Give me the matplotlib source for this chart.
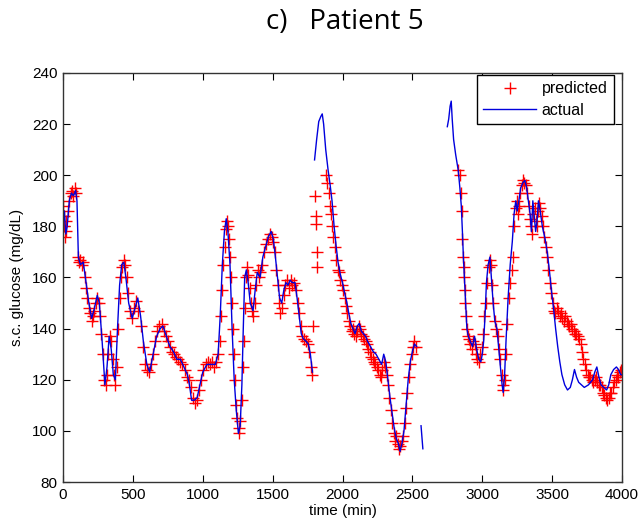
import numpy as np
import matplotlib.pyplot as plt

# actual s.c. glucose trace (NaN separates the gaps in the sensor record)
act_t = [0, 10, 20, 30, 45, 60, 75, 90, 100, 110, 125, 145, 165, 185, 205, 225, 245, 260, 280, 300,
         315, 330, 345, 360, 375, 390, 405, 420, 435, 450, 470, 495, 515, 535, 555, 575, 600, 620, 645, 670,
         695, 715, 740, 765, 790, 815, 840, 865, 890, 905, 920, 940, 960, 980, 1000, 1030, 1060, 1090, 1110, 1125,
         1140, 1155, 1168, 1180, 1195, 1210, 1225, 1240, 1255, 1268, 1280, 1290, 1300, 1312, 1325, 1340, 1360, 1375, 1390, 1410,
         1430, 1450, 1470, 1490, 1505, 1520, 1535, 1550, 1565, 1580, 1595, 1610, 1625, 1640, 1660, 1675, 1690, 1705, 1720, 1740,
         1755, 1770, 1785,
         1787,
         1800, 1815, 1830, 1845, 1855, 1865, 1880, 1897, 1912, 1925, 1940, 1955, 1968, 1985, 2000, 2015, 2032, 2045, 2060, 2075,
         2090, 2105, 2120, 2135, 2150, 2165, 2180, 2200, 2220, 2240, 2260, 2280, 2295, 2310, 2325, 2340, 2355, 2370, 2385, 2400,
         2412, 2425, 2440, 2455, 2470, 2485, 2500, 2515, 2530,
         2545,
         2562, 2568, 2575,
         2600,
         2750, 2760, 2770, 2778, 2785, 2795, 2810, 2828, 2840, 2850, 2858, 2865, 2872, 2880, 2890, 2900, 2915, 2930, 2945, 2960,
         2975, 2990, 3000, 3010, 3020, 3030, 3042, 3055, 3065, 3078, 3090, 3105, 3118, 3130, 3142, 3150, 3160, 3170, 3185, 3200,
         3215, 3228, 3240, 3250, 3262, 3275, 3290, 3305, 3318, 3330, 3342, 3352, 3362, 3372, 3382, 3392, 3402, 3415, 3430, 3450,
         3465, 3480, 3495, 3510, 3525, 3540, 3555, 3570, 3590, 3610, 3630, 3645, 3660, 3675, 3690, 3710, 3730, 3760, 3790, 3805,
         3820, 3835, 3850, 3870, 3890, 3905, 3920, 3940, 3960, 3975, 3990, 4000]
act_g = [180, 186, 177, 180, 190, 193, 192, 194, 190, 168, 165, 166, 158, 150, 144, 148, 153, 150, 135, 118,
         125, 137, 132, 122, 120, 140, 157, 165, 166, 160, 150, 144, 148, 152, 145, 135, 126, 123, 130, 137,
         140, 141, 137, 133, 131, 128, 128, 125, 122, 118, 112, 112, 113, 118, 123, 126, 126, 126, 130, 145,
         165, 178, 183, 178, 165, 140, 120, 108, 99, 102, 118, 140, 160, 163, 158, 150, 147, 155, 162, 160,
         168, 172, 176, 178, 175, 168, 160, 152, 150, 155, 158, 157, 159, 158, 158, 152, 145, 138, 136, 135,
         134, 130, 123,
         np.nan,
         206, 214, 221, 223, 224, 220, 210, 202, 196, 190, 180, 172, 166, 161, 158, 154, 150, 146, 142, 140,
         138, 141, 142, 139, 138, 137, 135, 133, 131, 130, 128, 126, 130, 127, 120, 113, 107, 101, 97, 95,
         92, 95, 100, 110, 120, 127, 131, 134, 133,
         np.nan,
         102, 98, 93,
         np.nan,
         219, 222, 227, 229, 222, 214, 208, 202, 195, 188, 178, 168, 160, 150, 140, 137, 135, 133, 137, 132,
         128, 127, 130, 135, 145, 158, 165, 168, 160, 150, 143, 140, 132, 125, 118, 115, 122, 135, 152, 165,
         174, 185, 190, 186, 190, 195, 197, 198, 195, 190, 185, 178, 190, 184, 178, 182, 190, 186, 180, 175,
         170, 163, 155, 148, 140, 133, 127, 122, 118, 116, 117, 120, 124, 121, 119, 118, 117, 118, 120, 123,
         125, 121, 118, 117, 116, 118, 122, 124, 125, 124, 122, 122]

# model predictions
pred_t_a = [0, 5, 10, 15, 20, 25, 35, 45, 55, 65, 75, 85, 95, 105, 115, 125, 135, 145, 155, 165,
            175, 185, 195, 205, 215, 225, 235, 245, 255, 265, 275, 285, 295, 305, 315, 325, 335, 345, 355, 365,
            375, 385, 395, 405, 415, 425, 435, 445, 455, 465, 480, 495, 510, 525, 540, 555, 570, 585, 600, 615,
            630, 645, 660, 675, 690, 705, 720, 735, 750, 765, 780, 795, 810, 825, 840, 855, 870, 885, 900, 915,
            930, 945, 960, 975, 990, 1005, 1020, 1035, 1050, 1065, 1080, 1095, 1110, 1120, 1130, 1140, 1148, 1158, 1166, 1172,
            1180, 1188, 1195, 1202, 1210, 1218, 1225, 1232, 1240, 1248, 1256, 1262, 1270, 1278, 1285, 1292, 1300, 1308, 1316, 1325,
            1335, 1345, 1355, 1362, 1372, 1382, 1392, 1402, 1412, 1425, 1440, 1455, 1468, 1480, 1492, 1505, 1515, 1525, 1535, 1545,
            1555, 1565, 1578, 1590, 1602, 1615, 1628, 1640, 1652, 1665, 1678, 1690, 1700, 1712, 1725, 1738, 1750, 1762, 1775, 1785,
            1790, 1805, 1808, 1812, 1815, 1818]
pred_g_a = [188, 184, 180, 176, 178, 182, 186, 190, 193, 194, 192, 195, 193, 168, 166, 167, 165, 166, 160, 156,
            152, 148, 146, 143, 145, 147, 150, 152, 150, 145, 138, 130, 120, 118, 122, 130, 137, 135, 128, 122,
            118, 125, 140, 152, 160, 164, 167, 165, 160, 154, 147, 144, 148, 151, 147, 141, 133, 126, 124, 123,
            126, 130, 135, 139, 141, 142, 139, 137, 135, 133, 131, 130, 129, 128, 127, 126, 124, 121, 120, 117,
            113, 111, 112, 116, 120, 124, 126, 127, 126, 127, 125, 127, 130, 135, 145, 155, 165, 172, 179, 182,
            180, 175, 168, 160, 150, 140, 130, 120, 110, 105, 101, 99, 104, 112, 125, 135, 148, 160, 164, 161,
            156, 150, 147, 145, 150, 157, 163, 160, 162, 165, 170, 173, 175, 177, 176, 174, 170, 163, 157, 150,
            146, 148, 153, 157, 159, 156, 159, 157, 158, 155, 150, 146, 141, 137, 136, 135, 134, 131, 125, 122,
            141, 192, 184, 181, 170, 164]

pred_t_b = [1880, 1890, 1900, 1910, 1918, 1925, 1935, 1945, 1955, 1965, 1975, 1985, 1995, 2005, 2015, 2025, 2035, 2045, 2055, 2065,
            2075, 2085, 2095, 2105, 2115, 2125, 2135, 2145, 2155, 2165, 2175, 2185, 2195, 2205, 2215, 2225, 2235, 2245, 2255, 2265,
            2275, 2285, 2295, 2305, 2315, 2325, 2335, 2345, 2355, 2365, 2375, 2385, 2395, 2405, 2415, 2425, 2435, 2445, 2455, 2465,
            2475, 2485, 2495, 2505, 2515, 2525]
pred_g_b = [200, 197, 193, 188, 185, 180, 176, 172, 167, 163, 162, 159, 157, 155, 152, 149, 146, 143, 141, 139,
            140, 138, 137, 139, 141, 140, 138, 137, 136, 135, 134, 132, 131, 129, 128, 127, 126, 125, 124, 122,
            121, 124, 127, 125, 122, 118, 113, 108, 103, 99, 96, 98, 95, 93, 94, 96, 98, 103, 109, 115,
            121, 126, 130, 133, 135, 133]

pred_t_d = [2828, 2838, 2845, 2852, 2858, 2862, 2866, 2870, 2875, 2880, 2885, 2890, 2898, 2905, 2915, 2925, 2935, 2945, 2955, 2965,
            2975, 2985, 2995, 3005, 3015, 3025, 3035, 3045, 3052, 3060, 3070, 3080, 3090, 3100, 3110, 3120, 3130, 3138, 3145, 3152,
            3160, 3170, 3180, 3190, 3200, 3210, 3220, 3230, 3240, 3248, 3255, 3262, 3272, 3282, 3292, 3302, 3312, 3322, 3332, 3342,
            3350, 3358, 3366, 3374, 3382, 3390, 3398, 3406, 3414, 3424, 3434, 3444, 3454, 3464, 3474, 3484, 3494, 3504, 3514, 3524,
            3534, 3544, 3554, 3564, 3574, 3584, 3594, 3604, 3614, 3624, 3634, 3644, 3654, 3664, 3674, 3684, 3694, 3704, 3714, 3724,
            3734, 3744, 3754, 3764, 3774, 3784, 3794, 3804, 3814, 3824, 3834, 3844, 3854, 3864, 3874, 3884, 3894, 3904, 3914, 3924,
            3934, 3944, 3954, 3964, 3974, 3984, 3994]
pred_g_d = [202, 200, 193, 186, 175, 168, 164, 160, 155, 150, 145, 140, 137, 136, 134, 132, 135, 134, 130, 128,
            127, 130, 133, 138, 145, 150, 158, 164, 167, 165, 157, 150, 143, 140, 137, 132, 128, 122, 118, 116,
            120, 130, 142, 152, 158, 163, 168, 180, 187, 190, 185, 188, 193, 196, 198, 197, 196, 193, 188, 183,
            180, 177, 185, 187, 182, 180, 186, 189, 187, 184, 180, 176, 172, 168, 163, 158, 154, 150, 147, 146,
            148, 147, 145, 146, 144, 143, 145, 143, 142, 141, 142, 140, 139, 138, 138, 137, 136, 134, 131, 128,
            126, 124, 122, 121, 121, 120, 119, 120, 121, 119, 118, 118, 117, 115, 114, 113, 112, 113, 115, 115,
            117, 119, 120, 122, 121, 123, 124]

pred_t = pred_t_a + pred_t_b + pred_t_d
pred_g = pred_g_a + pred_g_b + pred_g_d

plt.rcParams['font.family'] = ['Liberation Sans', 'DejaVu Sans']

fig = plt.figure(figsize=(6.38, 5.30), dpi=100)
ax = fig.add_axes([63 / 638, 1 - 482 / 530, 559 / 638, 409 / 530])

ax.plot(pred_t, pred_g, '+', color='red', markersize=8, markeredgewidth=1.0, label='predicted')
ax.plot(act_t, act_g, '-', color='#0000dd', linewidth=1.0, label='actual')

ax.set_xlim(0, 4000)
ax.set_ylim(80, 240)
ax.set_xticks(np.arange(0, 4001, 500))
ax.set_yticks(np.arange(80, 241, 20))
ax.tick_params(direction='in', top=True, right=True, length=5, width=0.8, labelsize=11, pad=4)
for sp in ax.spines.values():
    sp.set_linewidth(1.0)
    sp.set_color('#333333')

ax.set_xlabel('time (min)', fontsize=11, labelpad=2)
ax.set_ylabel('s.c. glucose (mg/dL)', fontsize=11, labelpad=6)

leg = ax.legend(loc='upper right', bbox_to_anchor=((614 - 63) / 559, (482 - 75) / 409),
                borderaxespad=0, fancybox=False, edgecolor='black', framealpha=1,
                fontsize=11.5, handlelength=3.3, handletextpad=0.35, borderpad=0.4, labelspacing=0.4)
leg.get_frame().set_linewidth(1.0)

fig.text(345 / 638, 1 - 22 / 530, 'c)   Patient 5', ha='center', va='center',
         fontsize=20, family=['Open Sans', 'DejaVu Sans'])

fig.savefig('out.png', dpi=100)
